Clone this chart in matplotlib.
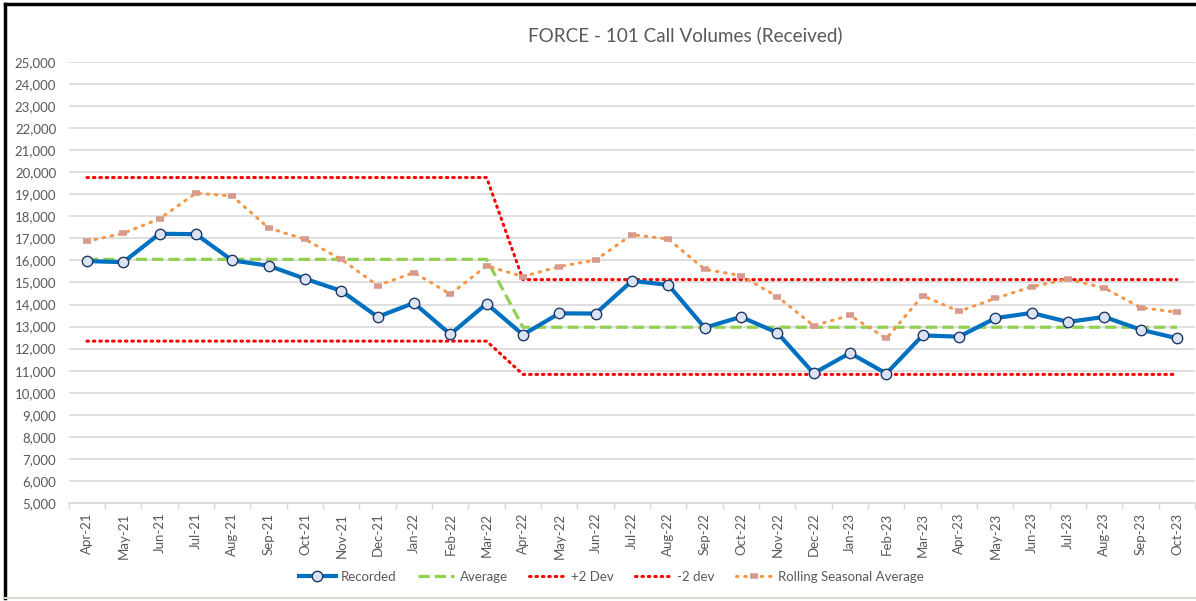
import matplotlib
matplotlib.use('Agg')
import matplotlib.pyplot as plt
from matplotlib.ticker import FuncFormatter, FixedLocator
from matplotlib.lines import Line2D

plt.rcParams['font.family'] = ['Lato', 'DejaVu Sans']

# data
months = ['Apr-21', 'May-21', 'Jun-21', 'Jul-21', 'Aug-21', 'Sep-21', 'Oct-21', 'Nov-21',
          'Dec-21', 'Jan-22', 'Feb-22', 'Mar-22', 'Apr-22', 'May-22', 'Jun-22', 'Jul-22',
          'Aug-22', 'Sep-22', 'Oct-22', 'Nov-22', 'Dec-22', 'Jan-23', 'Feb-23', 'Mar-23',
          'Apr-23', 'May-23', 'Jun-23', 'Jul-23', 'Aug-23', 'Sep-23', 'Oct-23']

recorded = [15970, 15920, 17210, 17190, 16000, 15760, 15170, 14620,
            13440, 14070, 12650, 14040, 12630, 13600, 13590, 15070,
            14890, 12950, 13440, 12720, 10880, 11800, 10870, 12600,
            12540, 13380, 13620, 13210, 13440, 12860, 12470]

average = [16050] * 12 + [12970] * 19
plus_2_dev = [19760] * 12 + [15130] * 19
minus_2_dev = [12340] * 12 + [10830] * 19

rolling_seasonal = [16870, 17230, 17890, 19050, 18920, 17470, 16960, 16050,
                    14860, 15450, 14470, 15750, 15270, 15720, 16020, 17170,
                    16970, 15600, 15310, 14360, 13040, 13510, 12460, 14400,
                    13690, 14280, 14810, 15150, 14750, 13860, 13650]

x = list(range(len(months)))

fig = plt.figure(figsize=(11.96, 6.01), dpi=100)
ax = fig.add_axes([0.0575, 0.1631, 0.9418, 0.7338])

ax.plot(x, plus_2_dev, color='#FF0000', lw=2.2, ls=(0, (0.5, 1.6)), dash_capstyle='round',
        label='+2 Dev', zorder=3)
ax.plot(x, minus_2_dev, color='#FF0000', lw=2.2, ls=(0, (0.5, 1.6)), dash_capstyle='round',
        label='-2 dev', zorder=3)
ax.plot(x, average, color='#92D050', lw=2.3, ls=(0, (3.5, 1.6)), label='Average', zorder=4)
ax.plot(x, rolling_seasonal, color='#F79646', lw=2.2, ls=(0, (0.5, 2.2)), dash_capstyle='round',
        marker='_', ms=6, mew=4, mec='#D99A8E', label='Rolling Seasonal Average', zorder=4)
ax.plot(x, recorded, color='#0070C0', lw=3, marker='o', ms=7.5, mfc='#DAE3F3', mec='#1F3864',
        mew=1, label='Recorded', zorder=5)

ax.set_xlim(-0.5, len(months) - 0.5)
ax.set_ylim(5000, 25000)
ax.set_yticks(range(5000, 25001, 1000))
ax.yaxis.set_major_formatter(FuncFormatter(lambda v, p: f'{int(v):,}'))
ax.grid(axis='y', color='#D9D9D9', lw=1.2)
ax.set_axisbelow(True)

ax.set_xticks(x)
ax.set_xticklabels(months, rotation=90)
ax.xaxis.set_minor_locator(FixedLocator([i - 0.5 for i in range(len(months) + 1)]))
ax.tick_params(axis='x', which='major', length=0, pad=7, labelsize=9.5, labelcolor='#595959')
ax.tick_params(axis='x', which='minor', length=4, color='#D9D9D9', width=1)
ax.tick_params(axis='y', length=0, pad=9, labelsize=9.5, labelcolor='#595959')

for s in ['top', 'right', 'left']:
    ax.spines[s].set_visible(False)
ax.spines['bottom'].set_color('#D9D9D9')
ax.spines['bottom'].set_linewidth(1.2)

fig.text(0.573, 0.942, 'FORCE - 101 Call Volumes (Received)', ha='center', va='center',
         fontsize=13.6, color='#595959')

# legend in the order of the original
handles, labels = ax.get_legend_handles_labels()
order = ['Recorded', 'Average', '+2 Dev', '-2 dev', 'Rolling Seasonal Average']
h = [handles[labels.index(n)] for n in order]
leg = fig.legend(h, order, loc='center', bbox_to_anchor=(0.511, 0.04), ncol=5, frameon=False,
                 fontsize=9.5, handlelength=2.8, columnspacing=1.6, handletextpad=0.4)
for t in leg.get_texts():
    t.set_color('#595959')

# chart border
fig.add_artist(Line2D([5 / 1196, 1], [1 - 4 / 601, 1 - 4 / 601], color='black', lw=2.5))
fig.add_artist(Line2D([5 / 1196, 5 / 1196], [1 - 4 / 601, 3 / 601], color='black', lw=2.5))
fig.add_artist(Line2D([5 / 1196, 1], [3 / 601, 3 / 601], color='#D8DCD0', lw=1.5))

fig.savefig('out.png', dpi=100)
